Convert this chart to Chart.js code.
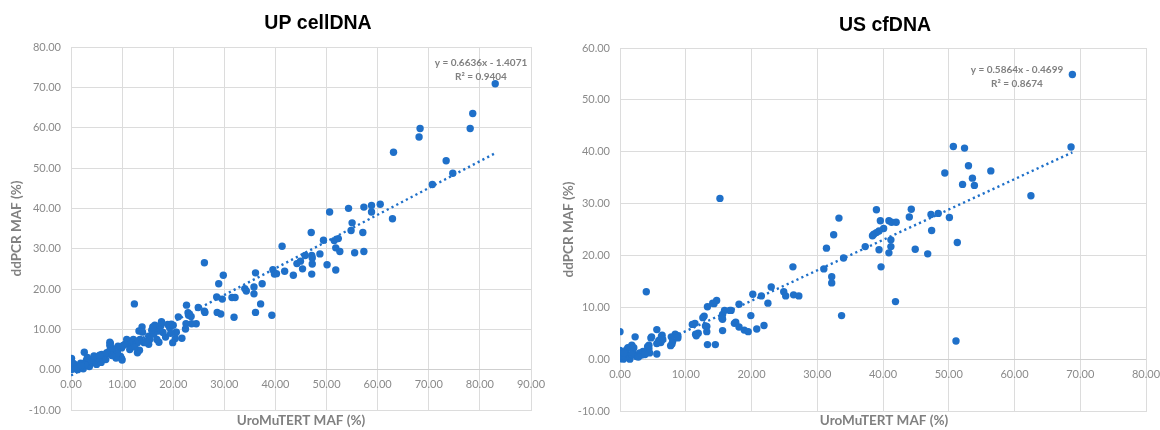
<!DOCTYPE html>
<html>
<head>
<meta charset="utf-8">
<script src="https://cdn.jsdelivr.net/npm/chart.js@4.4.1/dist/chart.umd.min.js"></script>
<style>
  html, body { margin: 0; padding: 0; background: #ffffff; width: 1160px; height: 430px; overflow: hidden; }
  .panel { position: absolute; top: 0; height: 430px; }
  #panelUP { left: 0; width: 550px; }
  #panelUS { left: 550px; width: 610px; }
</style>
</head>
<body>
<div class="panel" id="panelUP"><canvas id="chartUP" width="550" height="430"></canvas></div>
<div class="panel" id="panelUS"><canvas id="chartUS" width="610" height="430"></canvas></div>
<script>
// ---- UP cellDNA: [UroMuTERT MAF %, ddPCR MAF %] ----
const upPoints = [
  [83.0,70.9],[78.6,63.5],[78.1,59.8],[68.3,59.8],[68.1,57.7],[63.1,53.9],[73.4,51.8],[74.7,48.7],
  [70.7,45.9],[60.5,41.0],[58.8,40.7],[57.3,40.3],[54.3,40.0],[50.6,39.1],[58.8,39.1],
  [62.9,37.4],[55.0,36.4],[54.8,34.5],[57.1,34.0],[47.0,34.0],[49.4,32.1],[51.5,32.0],[52.3,32.5],
  [51.8,30.2],[52.6,29.3],[55.5,29.0],[57.3,29.3],[41.3,30.6],[45.8,28.3],[47.1,28.3],[47.2,27.7],
  [48.7,28.7],[44.2,26.3],[44.9,26.9],[47.2,26.2],[50.1,26.0],[45.3,25.0],[51.8,24.7],[47.1,23.7],
  [43.5,23.4],[41.8,24.4],[39.5,24.8],[39.8,23.7],[40.2,23.8],[36.1,24.0],[37.4,21.3],[35.8,20.5],
  [34.0,20.1],[34.3,19.5],[35.8,18.8],[31.5,17.9],[32.1,17.9],[29.6,17.5],[28.5,18.0],[28.9,21.3],
  [29.8,23.4],[26.1,26.5],[37.1,16.3],[36.1,14.2],[39.3,13.5],[28.6,14.2],[29.3,13.8],[31.9,13.0],
  [26.1,14.5],[26.2,14.2],[24.9,15.4],[22.6,16.0],[22.9,14.1],[23.0,13.5],[23.5,13.2],[21.0,13.1],
  [24.5,11.4],[23.6,11.4],[22.5,11.4],[22.4,10.1],[20.4,7.7],[20.5,9.2],[12.4,16.3],
  [17.7,11.9],[17.5,11.0],[16.4,11.0],[18.9,11.2],[19.6,11.3],[19.3,10.4],[20.6,9.3],[19.9,6.7],
  [21.7,7.8],[18.5,8.1],[17.1,9.6],[16.8,7.5],[17.2,6.8],[15.2,8.3],[15.2,6.3],[13.9,10.6],
  [13.3,9.6],[14.0,9.3],[15.4,7.5],[14.3,6.7],[13.0,6.7],[13.5,7.5],[13.0,4.2],[13.4,4.8],
  [12.2,7.5],[11.2,6.8],[10.9,7.5],[9.9,5.4],[9.2,5.8],[9.9,2.7],[9.7,3.3],[7.6,6.8],
  [7.6,6.0],[7.5,4.6],[6.9,3.8],[8.4,3.8],[6.3,2.9],[5.5,3.3],[4.8,2.3],[4.2,2.3],
  [4.0,1.7],[2.6,4.3],[3.0,2.3],[2.3,1.5],[1.7,0.8],[0.7,1.3],[0.1,2.8],[0.0,1.3],
  [0.0,0.2],[0.3,0.2],[1.3,0.0],[0.9,0.7],[0.1,0.8],[2.4,0.2],[3.6,0.8],[5.0,1.3],
  [5.9,1.8],[6.8,2.5],[8.8,2.9],[9.1,4.2],[10.6,6.3],[12.8,7.0],[11.8,6.5],[10.2,6.0],
  [8.2,5.2],[7.7,6.5],[6.0,3.8],[5.3,2.8],[3.5,2.0],[2.8,1.2],[1.9,1.6],[1.4,0.5],
  [0.5,0.4],[0.2,0.1],[0.4,1.6],[1.0,0.2],[2.0,1.0],[3.2,3.0],[4.5,3.4],[5.6,3.6],
  [7.0,4.2],[8.0,3.5],[10.0,2.4],[11.5,5.0],[12.5,5.6],[16.2,8.8],[18.0,9.2],[14.6,7.0],
  [15.8,9.8],[16.0,10.6],[17.4,10.0],[19.5,9.0],[20.0,11.0]
];

// ---- US cfDNA: [UroMuTERT MAF %, ddPCR MAF %] ----
const usPoints = [
  [68.8,54.9],[68.6,40.9],[50.7,41.0],[52.4,40.7],[53.0,37.3],[56.4,36.3],[49.4,35.9],[53.6,34.9],
  [52.1,33.7],[53.9,33.5],[62.5,31.5],[15.2,31.0],[39.0,28.8],[44.3,28.9],[44.0,27.4],[47.3,27.9],
  [48.4,28.1],[33.3,27.2],[50.1,27.3],[47.4,24.8],[51.3,22.5],[44.9,21.2],[46.8,20.3],[51.1,3.5],
  [39.6,26.7],[40.9,26.7],[41.3,26.4],[42.0,26.4],[40.1,25.2],[39.4,24.7],[39.0,24.4],[38.6,24.1],
  [38.4,23.8],[37.3,21.7],[39.4,21.1],[41.2,23.0],[41.2,21.7],[40.9,20.5],[39.7,17.8],[41.9,11.1],
  [32.5,24.0],[31.4,21.4],[34.0,19.5],[31.0,17.4],[32.2,15.9],[32.2,14.7],[33.7,8.4],[26.3,17.8],
  [23.0,13.9],[24.9,13.0],[25.2,12.2],[26.4,12.4],[27.2,12.2],[22.5,10.8],[21.5,12.2],[20.2,12.5],
  [18.1,10.6],[16.9,9.4],[19.9,8.4],[17.6,7.1],[17.4,6.9],[18.1,6.2],[20.8,5.8],[21.9,6.5],
  [18.9,5.6],[19.5,5.3],[15.6,8.6],[15.6,7.7],[15.6,5.5],[15.9,9.4],[16.7,9.4],[14.3,10.7],
  [14.7,11.3],[13.3,10.1],[12.8,8.3],[13.2,6.3],[13.2,5.3],[13.3,2.8],[14.5,2.8],[11.4,6.9],
  [11.5,4.8],[11.9,5.0],[8.4,4.8],[8.8,4.5],[7.9,2.9],[8.0,3.4],[5.9,3.6],[6.2,3.2],
  [5.6,3.0],[5.6,1.0],[4.4,2.7],[1.8,2.7],[1.2,2.2],[0.0,1.7],[6.4,4.6],[5.6,5.7],
  [4.8,4.3],[2.3,4.3],[0.0,5.3],[4.0,13.0],[4.7,4.1],[6.3,4.4],[6.5,3.8],[5.8,3.2],
  [4.2,2.4],[4.4,2.0],[3.5,1.5],[3.0,1.2],[2.1,2.2],[2.0,1.3],[1.0,1.8],[0.9,1.1],
  [0.0,1.3],[0.0,0.2],[0.5,0.0],[1.5,0.0],[1.3,0.5],[2.5,0.5],[3.3,0.8],[4.5,1.2],
  [7.8,4.3],[7.7,2.6],[8.8,4.1],[11.0,6.7],[11.6,4.5],[13.0,6.4],[12.6,8.0],[14.1,10.8],
  [15.5,7.9],[0.3,0.6],[0.8,0.3],[1.8,0.9],[2.8,0.4],[3.8,0.9],[0.6,1.2]
];

// Linear trendlines (least-squares fits)
const upSlope = 0.6636, upIntercept = -1.4071, upR2 = 0.9404;
const usSlope = 0.5864, usIntercept = -0.4699, usR2 = 0.8674;

// Axis ticks
const upXTicks = [0, 10, 20, 30, 40, 50, 60, 70, 80, 90];
const upYTicks = [-10, 0, 10, 20, 30, 40, 50, 60, 70, 80];
const usXTicks = [0, 10, 20, 30, 40, 50, 60, 70, 80];
const usYTicks = [-10, 0, 10, 20, 30, 40, 50, 60];

// Text
const upTitle = 'UP cellDNA';
const usTitle = 'US cfDNA';
const xAxisTitle = 'UroMuTERT MAF (%)';
const yAxisTitle = 'ddPCR MAF (%)';

const BLUE = '#1f70c9';
const GRID = '#dcdcdc';
const TICK_TEXT = '#8a8a8a';
const AXIS_TEXT = '#808080';

function fmt(v, d) { return v.toFixed(d); }
function equationLines(m, b, r2) {
  const sign = b < 0 ? ' - ' : ' + ';
  return ['y = ' + fmt(m, 4) + 'x' + sign + fmt(Math.abs(b), 4), 'R\u00B2 = ' + fmt(r2, 4)];
}

// Draws the title, the axis titles, the x tick labels along y = 0 and the fit equation
const chartText = {
  id: 'chartText',
  afterDraw(chart, args, o) {
    const ctx = chart.ctx;
    const xs = chart.scales.x, ys = chart.scales.y;
    ctx.save();
    ctx.textAlign = 'center';
    ctx.textBaseline = 'middle';

    ctx.fillStyle = '#000000';
    ctx.font = 'bold 19.5px "Liberation Sans", Arial, sans-serif';
    ctx.fillText(o.title, o.titleX, o.titleY);

    ctx.fillStyle = TICK_TEXT;
    ctx.font = '11px Lato, sans-serif';
    const y0 = ys.getPixelForValue(0);
    o.xTicks.forEach(v => ctx.fillText(fmt(v, 2), xs.getPixelForValue(v), y0 + 15));

    ctx.fillStyle = AXIS_TEXT;
    ctx.font = 'bold 13.5px Lato, sans-serif';
    ctx.fillText(o.xTitle, o.xTitleX, o.xTitleY);
    ctx.save();
    ctx.translate(o.yTitleX, (ys.top + ys.bottom) / 2);
    ctx.rotate(-Math.PI / 2);
    ctx.fillText(o.yTitle, 0, 0);
    ctx.restore();

    ctx.font = 'bold 10px Lato, sans-serif';
    o.equation.forEach((line, i) => ctx.fillText(line, o.eqX, o.eqY + i * 13.5));
    ctx.restore();
  }
};

function makeChart(canvasId, cfg) {
  const pts = cfg.points.map(p => ({ x: p[0], y: p[1] }));
  const xMaxData = Math.max(...cfg.points.map(p => p[0]));
  const xMinData = Math.min(...cfg.points.map(p => p[0]));
  const trend = [xMinData, xMaxData].map(x => ({ x: x, y: cfg.slope * x + cfg.intercept }));

  return new Chart(document.getElementById(canvasId), {
    type: 'scatter',
    data: {
      datasets: [
        {
          data: pts,
          backgroundColor: BLUE,
          borderWidth: 0,
          pointRadius: 3.7,
          pointHoverRadius: 3.7,
          order: 2
        },
        {
          type: 'line',
          data: trend,
          borderColor: BLUE,
          borderWidth: 2.4,
          borderDash: [2.2, 3.2],
          pointRadius: 0,
          fill: false,
          order: 1
        }
      ]
    },
    options: {
      responsive: false,
      animation: false,
      events: [],
      layout: { padding: cfg.padding },
      plugins: {
        legend: { display: false },
        tooltip: { enabled: false },
        title: { display: false },
        chartText: {
          title: cfg.title, titleX: cfg.titleX, titleY: cfg.titleY,
          xTicks: cfg.xTicks,
          xTitle: xAxisTitle, xTitleX: cfg.xTitleX, xTitleY: 421,
          yTitle: yAxisTitle, yTitleX: cfg.yTitleX,
          equation: equationLines(cfg.slope, cfg.intercept, cfg.r2),
          eqX: cfg.eqX, eqY: cfg.eqY
        }
      },
      scales: {
        x: {
          type: 'linear',
          min: cfg.xTicks[0], max: cfg.xTicks[cfg.xTicks.length - 1],
          afterBuildTicks: s => { s.ticks = cfg.xTicks.map(v => ({ value: v })); },
          afterFit: s => { s.height = 0; },
          ticks: { display: false },
          grid: { color: GRID, lineWidth: 1, drawTicks: false },
          border: { color: GRID, width: 1 }
        },
        y: {
          type: 'linear',
          min: cfg.yTicks[0], max: cfg.yTicks[cfg.yTicks.length - 1],
          afterBuildTicks: s => { s.ticks = cfg.yTicks.map(v => ({ value: v })); },
          afterFit: s => { s.width = cfg.yWidth; },
          ticks: {
            padding: 10,
            color: TICK_TEXT,
            font: { family: 'Lato, sans-serif', size: 11 },
            callback: v => fmt(v, 2)
          },
          grid: {
            color: ctx => (ctx.tick && ctx.tick.value === 0) ? '#cfcfcf' : GRID,
            lineWidth: 1,
            drawTicks: false
          },
          border: { color: GRID, width: 1 }
        }
      }
    },
    plugins: [chartText]
  });
}

makeChart('chartUP', {
  points: upPoints, slope: upSlope, intercept: upIntercept, r2: upR2,
  xTicks: upXTicks, yTicks: upYTicks,
  title: upTitle, titleX: 318, titleY: 24,
  xTitleX: 301, yTitleX: 17,
  eqX: 481, eqY: 63,
  yWidth: 71,
  padding: { top: 47, right: 19, bottom: 20, left: 0 }
});

makeChart('chartUS', {
  points: usPoints, slope: usSlope, intercept: usIntercept, r2: usR2,
  xTicks: usXTicks, yTicks: usYTicks,
  title: usTitle, titleX: 335, titleY: 26,
  xTitleX: 334, yTitleX: 19,
  eqX: 467, eqY: 70,
  yWidth: 70,
  padding: { top: 48, right: 14, bottom: 19, left: 0 }
});
</script>
</body>
</html>
